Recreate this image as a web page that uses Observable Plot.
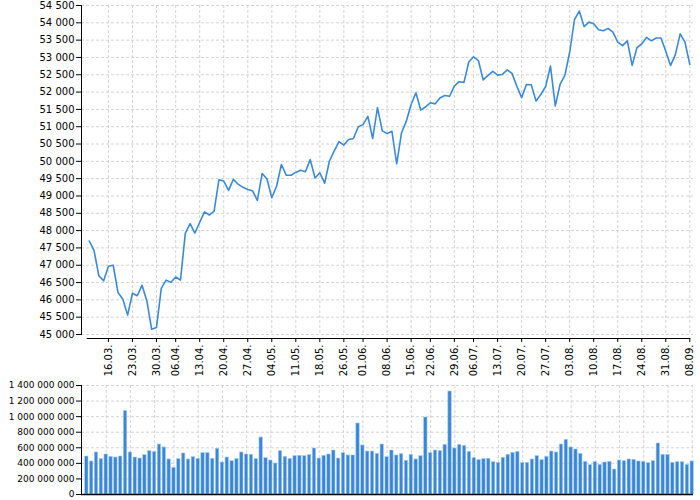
<!DOCTYPE html>
<html><head><meta charset="utf-8">
<script src="https://cdn.jsdelivr.net/npm/d3@7"></script>
<script src="https://cdn.jsdelivr.net/npm/@observablehq/plot@0.6"></script>
<style>
html,body{margin:0;padding:0;background:#fff;}
#chart svg{display:block;}
</style></head><body><div id="chart"></div>
<script>
const dates = [
"10.03.","11.03.","12.03.","13.03.",
"16.03.","17.03.","18.03.","19.03.","20.03.",
"23.03.","24.03.","25.03.","26.03.","27.03.",
"30.03.","31.03.","01.04.","02.04.",
"06.04.","07.04.","08.04.","09.04.","10.04.",
"13.04.","14.04.","15.04.","16.04.","17.04.",
"20.04.","21.04.","22.04.","23.04.","24.04.",
"27.04.","28.04.","29.04.","30.04.","01.05.",
"04.05.","05.05.","06.05.","07.05.","08.05.",
"11.05.","12.05.","13.05.","14.05.","15.05.",
"18.05.","19.05.","20.05.","21.05.","22.05.",
"26.05.","27.05.","28.05.","29.05.",
"01.06.","02.06.","03.06.","04.06.","05.06.",
"08.06.","09.06.","10.06.","11.06.","12.06.",
"15.06.","16.06.","17.06.","18.06.",
"22.06.","23.06.","24.06.","25.06.","26.06.",
"29.06.","30.06.","01.07.","02.07.",
"06.07.","07.07.","08.07.","09.07.","10.07.",
"13.07.","14.07.","15.07.","16.07.","17.07.",
"20.07.","21.07.","22.07.","23.07.","24.07.",
"27.07.","28.07.","29.07.","30.07.","31.07.",
"03.08.","04.08.","05.08.","06.08.","07.08.",
"10.08.","11.08.","12.08.","13.08.","14.08.",
"17.08.","18.08.","19.08.","20.08.","21.08.",
"24.08.","25.08.","26.08.","27.08.","28.08.",
"31.08.","01.09.","02.09.","03.09.","04.09.",
"08.09."];

const prices = [
47700,47430,46700,46550,46970,47000,46210,46020,45560,46190,
46120,46420,45970,45150,45200,46330,46570,46510,46660,46570,
47920,48200,47930,48240,48540,48450,48560,49470,49430,49160,
49480,49340,49250,49190,49150,48870,49650,49490,48950,49280,
49910,49600,49600,49680,49740,49700,50050,49520,49670,49370,
50010,50300,50570,50470,50630,50660,51000,51060,51300,50660,
51550,50880,50800,50870,49930,50820,51160,51640,51980,51480,
51570,51690,51660,51830,51900,51880,52170,52300,52280,52870,
53020,52910,52350,52480,52600,52490,52510,52640,52540,52170,
51840,52220,52210,51740,51930,52160,52750,51600,52220,52480,
53150,54090,54340,53890,54020,53970,53800,53770,53840,53730,
53440,53340,53480,52770,53280,53390,53580,53480,53560,53560,
53180,52770,53080,53680,53440,52800];

const volumes = [
488e6,424e6,540e6,454e6,514e6,484e6,475e6,488e6,1071e6,540e6,
475e6,462e6,505e6,557e6,544e6,642e6,604e6,450e6,343e6,454e6,
527e6,450e6,480e6,458e6,531e6,531e6,458e6,587e6,411e6,475e6,
428e6,454e6,540e6,514e6,510e6,454e6,732e6,467e6,437e6,398e6,
557e6,484e6,458e6,492e6,497e6,492e6,505e6,591e6,462e6,497e6,
514e6,565e6,462e6,531e6,501e6,501e6,912e6,630e6,552e6,552e6,
522e6,642e6,480e6,565e6,501e6,518e6,433e6,510e6,450e6,492e6,
989e6,531e6,565e6,557e6,638e6,1323e6,591e6,638e6,625e6,548e6,
467e6,441e6,454e6,458e6,415e6,407e6,471e6,510e6,535e6,548e6,
403e6,407e6,450e6,492e6,441e6,484e6,552e6,540e6,642e6,702e6,
604e6,578e6,522e6,420e6,377e6,415e6,381e6,411e6,420e6,321e6,
437e6,428e6,450e6,445e6,424e6,420e6,403e6,428e6,655e6,510e6,
510e6,407e6,415e6,415e6,381e6,424e6];

const dateTicks = ["16.03.","23.03.","30.03.","06.04.","13.04.","20.04.","27.04.","04.05.","11.05.","18.05.","26.05.",
"01.06.","08.06.","15.06.","22.06.","29.06.","06.07.","13.07.","20.07.","27.07.","03.08.","10.08.","17.08.","24.08.","31.08.","08.09."];
const priceTicks = [45000,45500,46000,46500,47000,47500,48000,48500,49000,49500,50000,50500,51000,51500,52000,52500,53000,53500,54000,54500];
const volumeTicks = [0,200e6,400e6,600e6,800e6,1000e6,1200e6,1400e6];

const fmt = d3.formatLocale({thousands: " ", grouping: [3], decimal: ",", currency: ["", ""]}).format(",d");
const rows = dates.map((d, i) => ({date: d, price: prices[i], volume: volumes[i]}));

const lineColor = "#3b8ad9";
const grid = {stroke: "#d4d4d4", strokeOpacity: 1, strokeDasharray: "3,2"};
const xr = [86.3, 691.7];
const step = (xr[1] - xr[0]) / (dates.length - 1);
const font = "'DejaVu Sans', sans-serif";

const priceChart = Plot.plot({
  width: 700, height: 378,
  marginLeft: 81, marginRight: 7, marginTop: 5, marginBottom: 44,
  style: {fontFamily: font, fontSize: "10px", color: "#000", background: "#fff", overflow: "visible"},
  x: {type: "point", domain: dates, range: xr},
  y: {domain: [45000, 54500]},
  marks: [
    Plot.gridY(priceTicks, grid),
    Plot.gridX(dateTicks, grid),
    Plot.axisY(priceTicks, {tickFormat: fmt, tickSize: 5, tickPadding: 2, label: null}),
    Plot.axisX(dateTicks, {tickRotate: -90, tickSize: 4, tickPadding: 2, dy: 4, label: null}),
    Plot.frame({anchor: "left", stroke: "#000"}),
    Plot.ruleY([45000], {x1: () => dates[0], x2: () => dates[dates.length - 1], dy: 4, insetLeft: -2, insetRight: -1, stroke: "#000"}),
    Plot.line(rows, {x: "date", y: "price", stroke: lineColor, strokeWidth: 1.6})
  ]
});

const volumeChart = Plot.plot({
  width: 700, height: 122,
  marginLeft: 81, marginRight: 7, marginTop: 7, marginBottom: 6,
  style: {fontFamily: font, fontSize: "9px", color: "#000", background: "#fff", overflow: "visible"},
  x: {type: "band", domain: dates, range: [xr[0] - step / 2, xr[1] + step / 2], paddingInner: 0.3, paddingOuter: 0.15, align: 0.5, axis: null},
  y: {domain: [0, 1400e6]},
  marks: [
    Plot.gridY(volumeTicks, grid),
    Plot.gridX(dateTicks, grid),
    Plot.barY(rows, {x: "date", y: "volume", fill: "#3a87d8", stroke: "#a6cbf0", strokeWidth: 0.6}),
    Plot.axisY(volumeTicks, {tickFormat: fmt, tickSize: 5, tickPadding: 2, label: null}),
    Plot.frame({anchor: "left", stroke: "#000"}),
    Plot.ruleY([0], {stroke: "#000", strokeWidth: 1.5})
  ]
});

document.getElementById("chart").append(priceChart, volumeChart);
</script>
</body></html>
